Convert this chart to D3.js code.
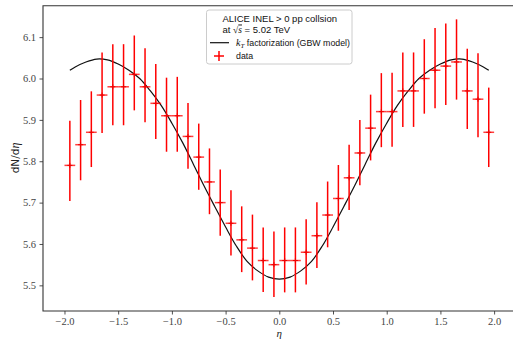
<!DOCTYPE html>
<html>
<head>
<meta charset="utf-8">
<script src="https://cdn.jsdelivr.net/npm/d3@7"></script>
<style>
  html,body{margin:0;padding:0;background:#fff}
  svg{display:block}
</style>
</head>
<body>
<div id="chart"></div>
<script>
// measured points (eta bin centres, dN/deta, upper / lower error)
const etaBins = [-1.95,-1.85,-1.75,-1.65,-1.55,-1.45,-1.35,-1.25,-1.15,-1.05,
                 -0.95,-0.85,-0.75,-0.65,-0.55,-0.45,-0.35,-0.25,-0.15,-0.05,
                  0.05, 0.15, 0.25, 0.35, 0.45, 0.55, 0.65, 0.75, 0.85, 0.95,
                  1.05, 1.15, 1.25, 1.35, 1.45, 1.55, 1.65, 1.75, 1.85, 1.95];
const dataVals = [5.79,5.84,5.87,5.96,5.98,5.98,6.01,5.98,5.94,5.91,
                  5.91,5.86,5.81,5.75,5.70,5.65,5.61,5.59,5.56,5.55,
                  5.56,5.56,5.58,5.62,5.67,5.71,5.76,5.82,5.88,5.92,
                  5.92,5.97,5.97,6.00,6.02,6.03,6.04,5.97,5.95,5.87];
const errUp   = [0.108,0.108,0.099,0.103,0.103,0.103,0.094,0.093,0.095,0.092,
                 0.094,0.081,0.081,0.081,0.080,0.080,0.081,0.081,0.080,0.080,
                 0.080,0.080,0.080,0.081,0.081,0.081,0.080,0.080,0.081,0.093,
                 0.094,0.093,0.093,0.095,0.102,0.103,0.103,0.102,0.111,0.108];
const errDown = [0.086,0.086,0.084,0.092,0.093,0.093,0.087,0.086,0.086,0.087,
                 0.087,0.078,0.079,0.078,0.080,0.078,0.078,0.078,0.076,0.078,
                 0.077,0.077,0.078,0.078,0.078,0.078,0.078,0.078,0.078,0.086,
                 0.085,0.087,0.087,0.085,0.092,0.094,0.091,0.092,0.092,0.084];
const binHalf = 0.05;

// kT factorization (GBW model) curve
const modelEta = [-1.95,-1.9,-1.8,-1.7,-1.6,-1.5,-1.4,-1.3,-1.2,-1.1,-1.0,
                  -0.9,-0.8,-0.7,-0.6,-0.5,-0.4,-0.3,-0.2,-0.1,0.0,
                   0.1, 0.2, 0.3, 0.4, 0.5, 0.6, 0.7, 0.8, 0.9, 1.0,
                   1.1, 1.2, 1.3, 1.4, 1.5, 1.6, 1.7, 1.8, 1.9, 1.95];
const modelVals = [6.020,6.028,6.040,6.047,6.045,6.035,6.020,6.000,5.970,5.935,5.892,
                   5.845,5.793,5.740,5.690,5.641,5.595,5.558,5.535,5.520,5.515,
                   5.520,5.535,5.558,5.595,5.641,5.690,5.740,5.793,5.845,5.892,
                   5.935,5.970,6.000,6.020,6.035,6.045,6.047,6.040,6.028,6.020];

const xTicks = [-2.0,-1.5,-1.0,-0.5,0.0,0.5,1.0,1.5,2.0];
const yTicks = [5.5,5.6,5.7,5.8,5.9,6.0,6.1];

const W=513, H=339;
const x=d3.scaleLinear().domain([-2.2,2.2]).range([43,515.6]);
const y=d3.scaleLinear().domain([5.438,6.176]).range([311,5.7]);

const svg=d3.select('#chart').append('svg').attr('width',W).attr('height',H);
const tickFont='Liberation Serif, serif';
const minus=v=>v<0?'\u2212'+Math.abs(v).toFixed(1):v.toFixed(1);

// axes
const gx=svg.append('g').attr('transform',`translate(0,${y.range()[0]})`)
  .call(d3.axisBottom(x).tickValues(xTicks).tickSize(3.5).tickPadding(3).tickFormat(minus));
const gy=svg.append('g').attr('transform',`translate(${x.range()[0]},0)`)
  .call(d3.axisLeft(y).tickValues(yTicks).tickSize(3.5).tickPadding(3.5).tickFormat(d=>d.toFixed(1)));
[gx,gy].forEach(g=>{
  g.select('.domain').remove();
  g.selectAll('line').attr('stroke','#222').attr('stroke-width',0.8);
  g.selectAll('text').attr('font-family',tickFont).attr('font-size','10.5px').attr('fill','#444');
});

// spines
svg.append('path')
  .attr('d',`M${x.range()[1]+2},${y.range()[1]}H${x.range()[0]}V${y.range()[0]}H${x.range()[1]+2}`)
  .attr('fill','none').attr('stroke','#333').attr('stroke-width',1.1);

// model curve
const line=d3.line().x((d,i)=>x(modelEta[i])).y(d=>y(d)).curve(d3.curveCatmullRom);
svg.append('path').datum(modelVals).attr('d',line)
  .attr('fill','none').attr('stroke','#111').attr('stroke-width',1.2);

// data error bars
const pts=svg.append('g');
etaBins.forEach((e,i)=>{
  const v=dataVals[i], px=x(e), py=y(v);
  pts.append('line').attr('x1',px).attr('x2',px)
    .attr('y1',y(v-errDown[i])).attr('y2',y(v+errUp[i]))
    .attr('stroke','red').attr('stroke-width',1.5);
  pts.append('line').attr('x1',x(e-binHalf)).attr('x2',x(e+binHalf))
    .attr('y1',py).attr('y2',py)
    .attr('stroke','red').attr('stroke-width',1.5).attr('opacity',0.75);
  pts.append('path').attr('d',`M${px-2.5},${py}H${px+2.5}M${px},${py-2.5}V${py+2.5}`)
    .attr('stroke','#e00').attr('stroke-width',1);
});

// axis labels
svg.append('text').attr('x',x(0)).attr('y',336.5)
  .attr('text-anchor','middle')
  .attr('font-family',tickFont).attr('font-style','italic').attr('font-size','11px')
  .attr('fill','#222').text('η');
const yl=svg.append('text').attr('transform','translate(16,158) rotate(-90)')
  .attr('text-anchor','middle').attr('dominant-baseline','middle')
  .attr('font-family','DejaVu Sans, sans-serif').attr('font-size','10.5px').attr('fill','#222');
yl.append('tspan').text('dN/d');
yl.append('tspan').attr('font-family',tickFont).attr('font-style','italic').attr('font-size','12px').text('η');

// legend
const lg=svg.append('g');
lg.append('rect').attr('x',206.5).attr('y',10).attr('width',145.5).attr('height',54)
  .attr('rx',2.5).attr('fill','#fff').attr('fill-opacity',0.8)
  .attr('stroke','#ccc').attr('stroke-width',1);
const sans='Liberation Sans, Arial, sans-serif';
lg.append('text').attr('x',222.5).attr('y',21.5).attr('font-family',sans).attr('font-size','9.5px')
  .attr('fill','#111').text('ALICE INEL > 0 pp collsion');
const l2=lg.append('text').attr('x',222.5).attr('y',32.5).attr('font-family',sans).attr('font-size','9.5px').attr('fill','#111');
l2.append('tspan').text('at ');
l2.append('tspan').attr('font-family',tickFont).text('√');
l2.append('tspan').attr('font-family',tickFont).attr('font-style','italic').attr('text-decoration','overline').text('s');
l2.append('tspan').text(' = 5.02 TeV');
lg.append('line').attr('x1',210).attr('x2',229).attr('y1',42.7).attr('y2',42.7)
  .attr('stroke','#111').attr('stroke-width',1.2);
const l3=lg.append('text').attr('x',236).attr('y',46).attr('font-family',sans).attr('font-size','8.8px').attr('fill','#111');
l3.append('tspan').attr('font-family',tickFont).attr('font-style','italic').attr('font-size','10px').text('k');
l3.append('tspan').attr('font-family',tickFont).attr('font-style','italic').attr('font-size','7px').attr('dy',2).text('T');
l3.append('tspan').attr('dy',-2).text(' factorization (GBW model)');
lg.append('path').attr('d','M214,56H224M219,51V61').attr('stroke','red').attr('stroke-width',1.5);
lg.append('text').attr('x',236).attr('y',59).attr('font-family',sans).attr('font-size','8.8px')
  .attr('fill','#111').text('data');
</script>
</body>
</html>
